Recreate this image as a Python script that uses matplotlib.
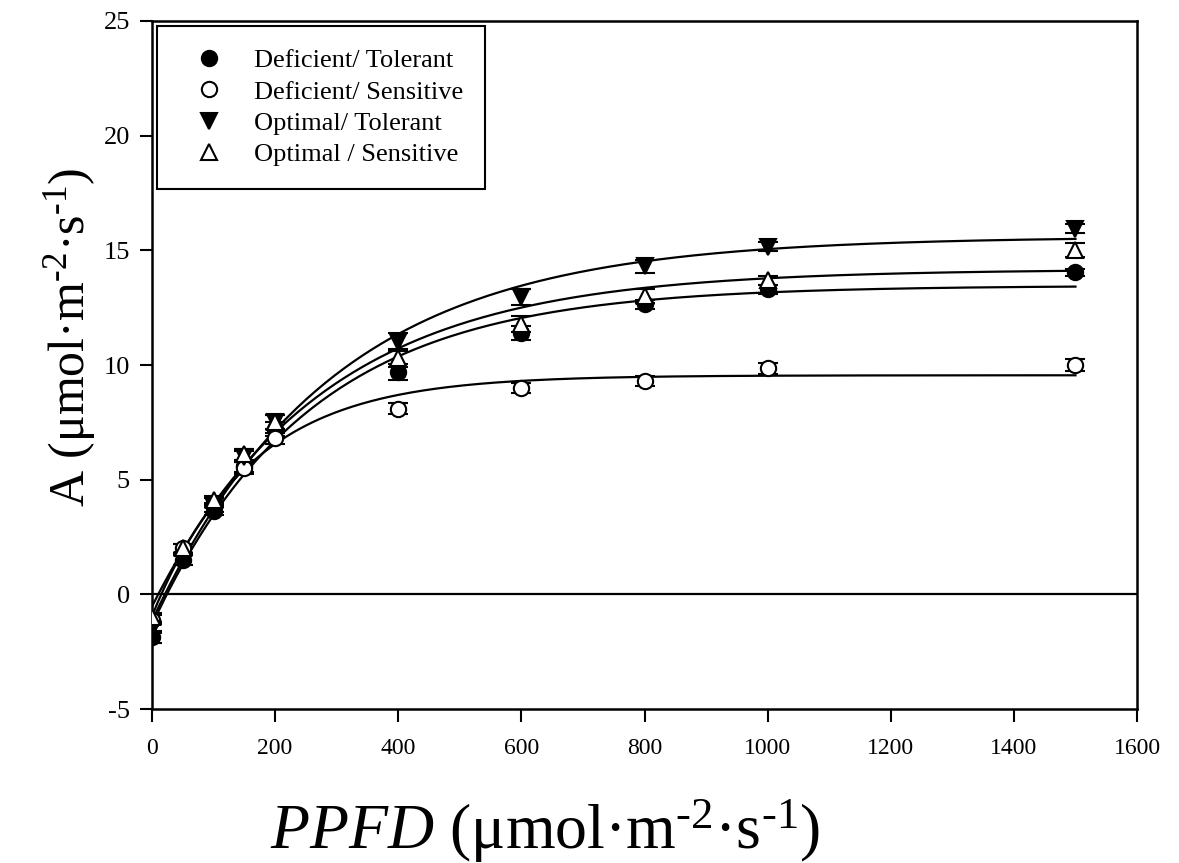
import numpy as np
import matplotlib.pyplot as plt

plt.rcParams['font.family'] = ['Liberation Serif', 'DejaVu Serif']
plt.rcParams['mathtext.fontset'] = 'custom'
plt.rcParams['mathtext.rm'] = 'Liberation Serif'
plt.rcParams['mathtext.it'] = 'Liberation Serif:italic'
plt.rcParams['axes.unicode_minus'] = False

# PPFD levels
ppfd = np.array([0, 50, 100, 150, 200, 400, 600, 800, 1000, 1500])

# net assimilation
def_tol = np.array([-1.85, 1.5, 3.65, 5.6, 7.2, 9.7, 11.4, 12.65, 13.3, 14.05])
def_sen = np.array([-1.1, 2.0, 4.0, 5.5, 6.8, 8.1, 9.0, 9.3, 9.85, 10.0])
opt_tol = np.array([-1.5, 1.5, 3.8, 6.0, 7.5, 11.0, 12.95, 14.3, 15.15, 15.95])
opt_sen = np.array([-1.0, 2.0, 4.1, 6.1, 7.5, 10.3, 11.8, 13.0, 13.7, 15.0])

def_tol_err = np.array([0.25, 0.2, 0.2, 0.25, 0.3, 0.35, 0.3, 0.2, 0.2, 0.15])
def_sen_err = np.array([0.2, 0.2, 0.2, 0.25, 0.25, 0.25, 0.2, 0.2, 0.25, 0.25])
opt_tol_err = np.array([0.2, 0.2, 0.2, 0.25, 0.3, 0.4, 0.35, 0.3, 0.2, 0.2])
opt_sen_err = np.array([0.2, 0.2, 0.2, 0.25, 0.3, 0.4, 0.35, 0.3, 0.2, 0.3])

labels = ['Deficient/ Tolerant', 'Deficient/ Sensitive',
          'Optimal/ Tolerant', 'Optimal / Sensitive']
markers = ['o', 'o', 'v', '^']
faces = ['black', 'white', 'black', 'white']


def fit_curve(x, y):
    # A = a*(1-exp(-b*x)) + c, grid over b, least squares for a, c
    best = None
    for b in np.linspace(0.0005, 0.02, 400):
        M = np.column_stack([1 - np.exp(-b * x), np.ones_like(x, dtype=float)])
        coef, res, _, _ = np.linalg.lstsq(M, y, rcond=None)
        err = np.sum((M @ coef - y) ** 2)
        if best is None or err < best[0]:
            best = (err, b, coef)
    return best[1], best[2]


fig = plt.figure(figsize=(11.79, 8.63), dpi=100)
ax = fig.add_axes([0.1289, 0.1784, 0.8355, 0.7973])

xs = np.linspace(0, 1500, 300)
series = [def_tol, def_sen, opt_tol, opt_sen]
errs = [def_tol_err, def_sen_err, opt_tol_err, opt_sen_err]
for y, e, lab, m, fc in zip(series, errs, labels, markers, faces):
    b, (a, c) = fit_curve(ppfd, y)
    ax.plot(xs, a * (1 - np.exp(-b * xs)) + c, color='black', lw=1.6, zorder=2)
    ax.errorbar(ppfd, y, yerr=e, fmt=m, ms=11, mfc=fc, mec='black', mew=1.5,
                ecolor='black', elinewidth=1.2, capsize=7, capthick=1.5,
                label=lab, zorder=3)

ax.axhline(0, color='black', lw=1.6, zorder=1)

ax.set_xlim(0, 1600)
ax.set_ylim(-5, 25)
ax.set_xticks(np.arange(0, 1601, 200))
ax.set_yticks(np.arange(-5, 26, 5))
ax.tick_params(direction='out', length=9, width=1.5)
ax.tick_params(axis='x', labelsize=17, pad=12)
ax.tick_params(axis='y', labelsize=19, pad=7)
for s in ax.spines.values():
    s.set_linewidth(1.8)

ax.set_xlabel(r'$\it{PPFD}$ (μmol·m$^{\text{-2}}$·s$^{\text{-1}}$)', fontsize=46)
ax.xaxis.set_label_coords(0.399, -0.128)
ax.set_ylabel(r'A (μmol·m$^{\text{-2}}$·s$^{\text{-1}}$)', fontsize=36)
ax.yaxis.set_label_coords(-0.055, 0.54)

handles, labs = ax.get_legend_handles_labels()
handles = [h[0] for h in handles]
leg = ax.legend(handles, labs, loc='upper left', fontsize=19, frameon=True,
                fancybox=False, edgecolor='black', framealpha=1,
                handlelength=2.2, handletextpad=0.6, borderpad=0.85,
                labelspacing=0.3, borderaxespad=0.2)
leg.get_frame().set_linewidth(1.5)

fig.savefig('out.png', dpi=100)
